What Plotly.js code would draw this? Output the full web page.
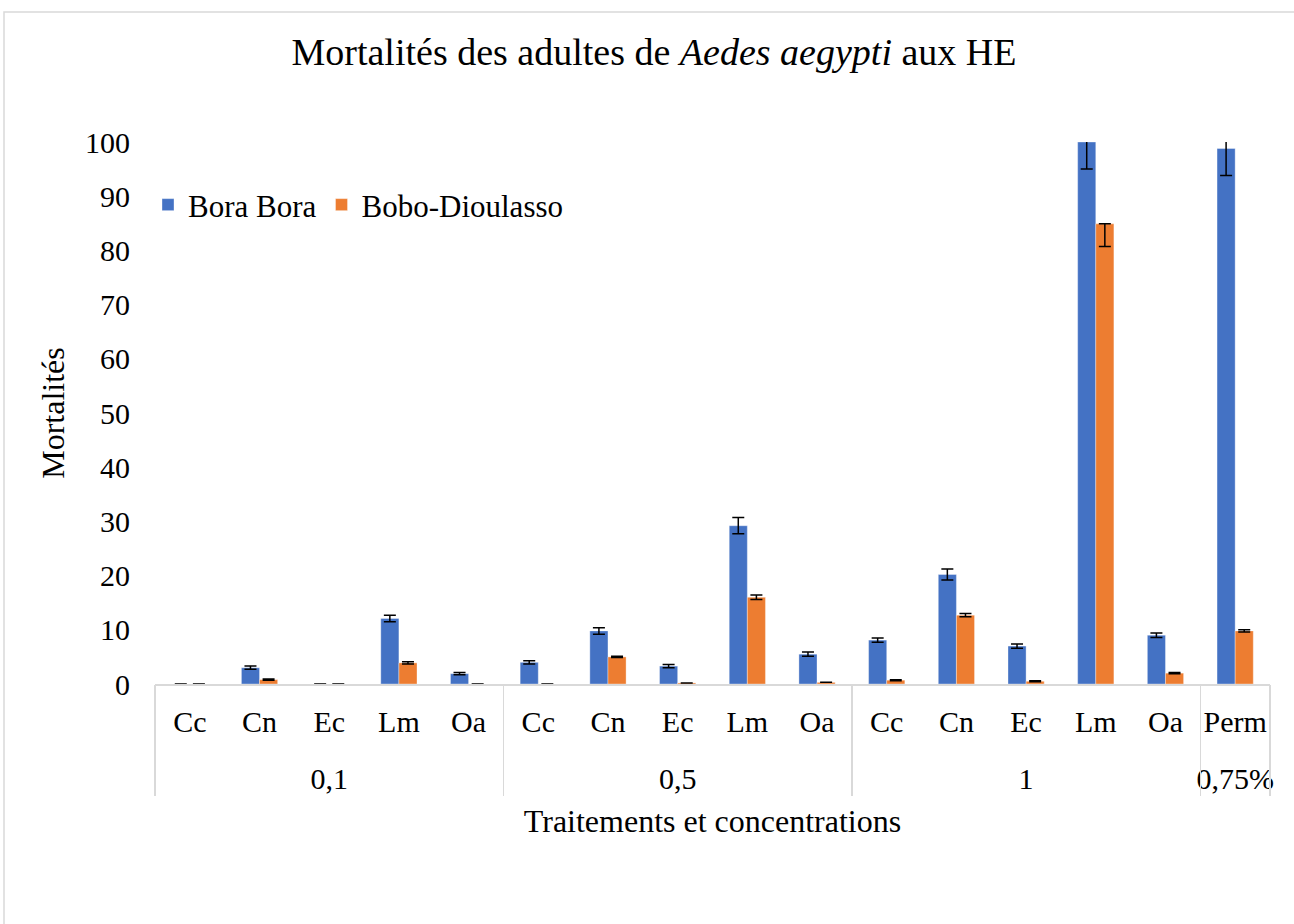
<!DOCTYPE html>
<html>
<head>
<meta charset="utf-8">
<script src="https://cdn.plot.ly/plotly-3.0.1.min.js"></script>
<style>html,body{margin:0;padding:0;background:#fff;}#chart{width:1294px;height:924px;}</style>
</head>
<body>
<div id="chart"></div>
<script>
const groups = ['0,1','0,1','0,1','0,1','0,1','0,5','0,5','0,5','0,5','0,5','1','1','1','1','1','0,75%'];
const treatments = ['Cc','Cn','Ec','Lm','Oa','Cc','Cn','Ec','Lm','Oa','Cc','Cn','Ec','Lm','Oa','Perm'];
const boraBora = [0, 3.0, 0, 12.1, 1.9, 4.0, 9.8, 3.3, 29.2, 5.5, 8.1, 20.2, 7.0, 100, 9.0, 98.8];
const boraBoraErr = [0, 0.3, 0, 0.6, 0.2, 0.3, 0.6, 0.3, 1.5, 0.4, 0.4, 1.0, 0.4, 5.0, 0.4, 5.0];
const boboDioulasso = [0, 0.8, 0, 3.9, 0, 0, 5.0, 0.2, 16.0, 0.3, 0.7, 12.7, 0.5, 84.9, 2.0, 9.8];
const boboErrPlus = [0, 0.1, 0, 0.2, 0, 0, 0.1, 0, 0.4, 0, 0.1, 0.3, 0.1, 0, 0.1, 0.2];
const boboErrMinus = [0, 0.1, 0, 0.2, 0, 0, 0.1, 0, 0.4, 0, 0.1, 0.3, 0.1, 4.2, 0.1, 0.2];

const FONT = "'Times New Roman', 'Liberation Serif', serif";

// unique category ids (group + treatment), labelled with the treatment only
const ids = groups.map((g, i) => g + ' | ' + treatments[i]);
const n = ids.length;

// group label positions (centre of each group) and divider positions (group boundaries)
const groupNames = [], groupCenters = [], boundaries = [-0.5];
let start = 0;
for (let i = 1; i <= n; i++) {
  if (i === n || groups[i] !== groups[i - 1]) {
    groupNames.push(groups[start]);
    groupCenters.push((start + i - 1) / 2);
    boundaries.push(i - 0.5);
    start = i;
  }
}

const traces = [
  {
    type: 'bar', name: 'Bora Bora',
    x: ids, y: boraBora,
    marker: {color: '#4472C4', line: {color: 'rgba(255,255,255,0.35)', width: 1}},
    error_y: {type: 'data', array: boraBoraErr, visible: true, color: '#000', thickness: 1.5, width: 6}
  },
  {
    type: 'bar', name: 'Bobo-Dioulasso',
    x: ids, y: boboDioulasso,
    marker: {color: '#ED7D31', line: {color: 'rgba(255,255,255,0.35)', width: 1}},
    error_y: {type: 'data', symmetric: false, array: boboErrPlus, arrayminus: boboErrMinus, visible: true, color: '#000', thickness: 1.5, width: 6}
  },
  // empty helper traces so the group-label axis and the divider axis get drawn
  {type: 'scatter', mode: 'markers', x: [], y: [], xaxis: 'x2', yaxis: 'y', showlegend: false, hoverinfo: 'skip'},
  {type: 'scatter', mode: 'markers', x: [], y: [], xaxis: 'x3', yaxis: 'y', showlegend: false, hoverinfo: 'skip'}
];

const L = 155, R = 24, T = 142, B = 240;
const W = 1294, H = 924;
const pw = W - L - R, ph = H - T - B;
const GRID = '#d9d9d9';

const layout = {
  width: W, height: H,
  margin: {l: L, r: R, t: T, b: B, autoexpand: false},
  paper_bgcolor: '#fff', plot_bgcolor: '#fff',
  font: {family: FONT, color: '#000', size: 30},
  title: {
    text: 'Mortalités des adultes de <i>Aedes aegypti</i> aux HE',
    font: {family: FONT, size: 38, color: '#000'},
    x: 654 / W, xref: 'container', xanchor: 'center',
    y: 1 - 52 / H, yref: 'container', yanchor: 'middle'
  },
  barmode: 'group', bargap: 0.48, bargroupgap: 0,
  showlegend: true,
  legend: {
    orientation: 'h', x: (148 - L) / pw, xanchor: 'left', y: (684 - 205) / ph, yanchor: 'middle',
    font: {family: FONT, size: 31, color: '#000'}, bgcolor: 'rgba(0,0,0,0)'
  },
  xaxis: {
    type: 'category', tickmode: 'array', tickvals: ids, ticktext: treatments,
    showgrid: false, zeroline: false,
    showline: true, linecolor: GRID, linewidth: 1.5,
    tickfont: {family: FONT, size: 30, color: '#000'},
    tickangle: 0, automargin: false, ticklabelstandoff: 10,
    ticks: ''
  },
  xaxis2: {
    overlaying: 'x', anchor: 'y', side: 'bottom', type: 'linear',
    range: [-0.5, n - 0.5], tickmode: 'array', tickvals: groupCenters, ticktext: groupNames,
    showgrid: false, zeroline: false, showline: false,
    tickfont: {family: FONT, size: 30, color: '#000'},
    tickangle: 0, automargin: false, ticklabelstandoff: 74, ticks: '',
    title: {text: 'Traitements et concentrations', font: {family: FONT, size: 32, color: '#000'}, standoff: 15}
  },
  xaxis3: {
    overlaying: 'x', anchor: 'y', side: 'bottom', type: 'linear',
    range: [-0.5, n - 0.5], tickmode: 'array', tickvals: boundaries,
    showticklabels: false, showgrid: false, zeroline: false, showline: false,
    ticks: 'outside', ticklen: 111, tickwidth: 1.5, tickcolor: GRID, automargin: false
  },
  yaxis: {
    range: [0, 100], dtick: 10, tick0: 0,
    showgrid: false, zeroline: false, showline: false,
    ticks: '', ticklabelstandoff: 24,
    tickfont: {family: FONT, size: 30, color: '#000'},
    title: {text: 'Mortalités', font: {family: FONT, size: 32, color: '#000'}, standoff: 10}
  },
  shapes: [
    {type: 'rect', xref: 'paper', yref: 'paper', layer: 'below',
     x0: (4 - L) / pw, x1: (W + 10 - L) / pw, y0: (684 - (H + 10)) / ph, y1: (684 - 12) / ph,
     line: {color: GRID, width: 1.5}, fillcolor: 'rgba(0,0,0,0)'}
  ]
};

Plotly.newPlot('chart', traces, layout, {displayModeBar: false, staticPlot: true});
</script>
</body>
</html>
